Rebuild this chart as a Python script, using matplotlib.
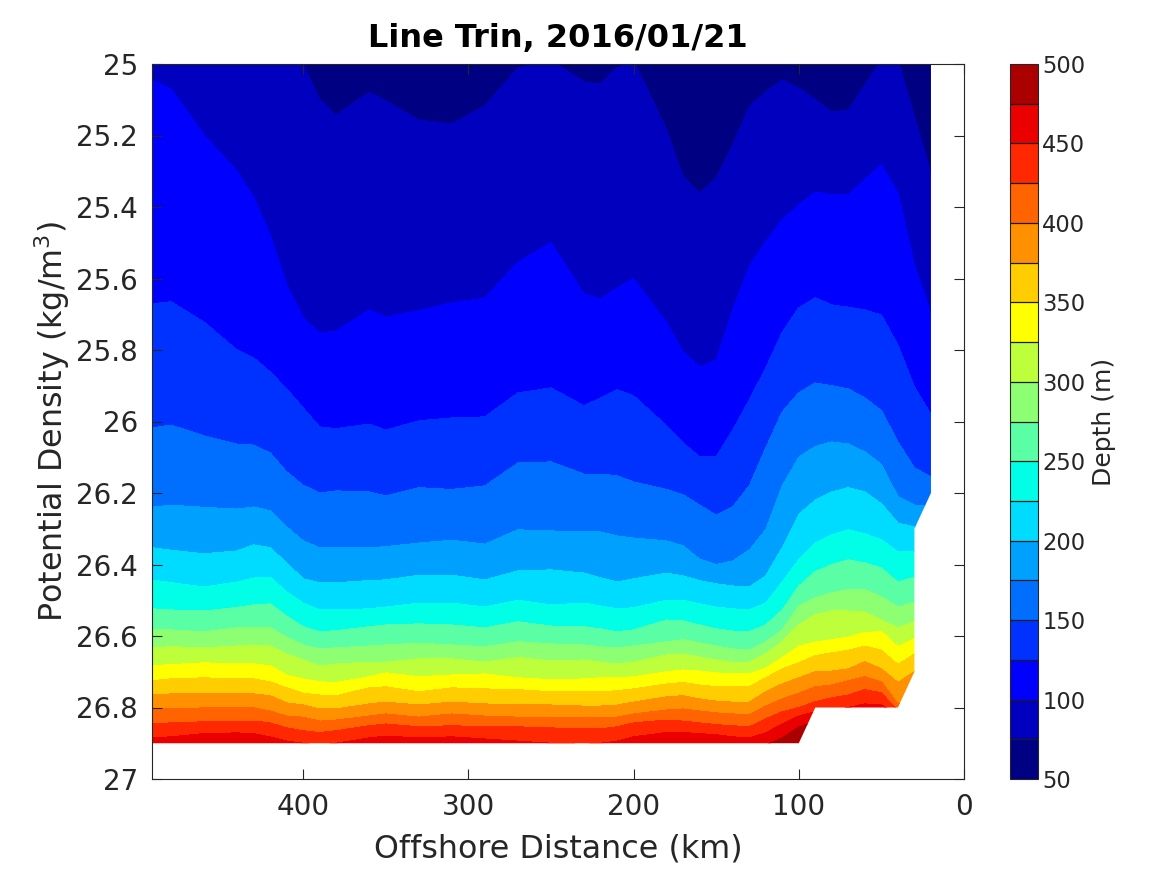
import numpy as np
import matplotlib
matplotlib.use('Agg')
import matplotlib.pyplot as plt
from matplotlib.patches import Polygon

# offshore distance of each profile (km)
distance = [491.5, 480, 460, 440, 430, 420, 410, 400, 390, 380, 360, 350, 330, 310, 290, 270, 250, 230, 220, 210,
            200, 180, 170, 160, 150, 140, 130, 120, 110, 100, 90, 80, 70, 60, 50, 40, 30, 20]

# potential density at which each depth (m) is reached along the line
sigma_75 = [24.98, 24.98, 24.98, 24.98, 24.98, 24.98, 24.98, 25.0, 25.10, 25.143, 25.08, 25.103, 25.157, 25.168, 25.117, 25.011, 24.99, 25.05, 25.056, 25.011,
            24.99, 25.185, 25.316, 25.361, 25.319, 25.226, 25.12, 25.078, 25.045, 25.067, 25.10, 25.134, 25.129, 25.059, 24.99, 24.99, 25.148, 25.305]
sigma_100 = [25.045, 25.07, 25.199, 25.30, 25.372, 25.478, 25.618, 25.71, 25.752, 25.747, 25.688, 25.708, 25.69, 25.668, 25.655, 25.554, 25.50, 25.643, 25.657, 25.627,
             25.60, 25.724, 25.805, 25.847, 25.828, 25.688, 25.567, 25.497, 25.436, 25.394, 25.358, 25.366, 25.366, 25.324, 25.282, 25.361, 25.562, 25.696]
sigma_125 = [25.671, 25.665, 25.722, 25.80, 25.822, 25.861, 25.909, 25.962, 26.015, 26.02, 26.007, 26.024, 25.998, 25.99, 25.987, 25.92, 25.906, 25.956, 25.934, 25.911,
             25.928, 26.012, 26.06, 26.099, 26.099, 26.024, 25.94, 25.85, 25.75, 25.682, 25.654, 25.674, 25.68, 25.688, 25.702, 25.786, 25.903, 25.98]
sigma_150 = [26.018, 26.01, 26.04, 26.063, 26.066, 26.088, 26.141, 26.178, 26.20, 26.194, 26.197, 26.208, 26.185, 26.19, 26.18, 26.116, 26.113, 26.147, 26.147, 26.152,
             26.169, 26.19, 26.205, 26.234, 26.262, 26.239, 26.18, 26.074, 25.973, 25.92, 25.892, 25.90, 25.909, 25.934, 25.97, 26.057, 26.13, 26.155]
sigma_175 = [26.24, 26.234, 26.24, 26.245, 26.239, 26.25, 26.295, 26.334, 26.353, 26.353, 26.353, 26.35, 26.34, 26.332, 26.343, 26.303, 26.306, 26.309, 26.309, 26.32,
             26.326, 26.334, 26.348, 26.385, 26.40, 26.39, 26.36, 26.303, 26.18, 26.10, 26.07, 26.057, 26.063, 26.085, 26.12, 26.21, 26.234, 26.234]
sigma_200 = [26.353, 26.36, 26.37, 26.362, 26.345, 26.353, 26.396, 26.44, 26.451, 26.451, 26.445, 26.443, 26.43, 26.43, 26.443, 26.418, 26.415, 26.424, 26.437, 26.449,
             26.44, 26.424, 26.432, 26.445, 26.454, 26.46, 26.463, 26.432, 26.353, 26.26, 26.22, 26.197, 26.185, 26.197, 26.23, 26.284, 26.295, 26.295]
sigma_225 = [26.443, 26.451, 26.463, 26.449, 26.438, 26.435, 26.477, 26.508, 26.527, 26.527, 26.524, 26.519, 26.508, 26.508, 26.519, 26.50, 26.513, 26.508, 26.516, 26.524,
             26.521, 26.50, 26.50, 26.51, 26.519, 26.524, 26.527, 26.508, 26.449, 26.387, 26.34, 26.317, 26.303, 26.314, 26.331, 26.365, 26.365, 26.365]
sigma_250 = [26.524, 26.527, 26.53, 26.52, 26.513, 26.51, 26.544, 26.574, 26.588, 26.585, 26.574, 26.569, 26.566, 26.569, 26.577, 26.56, 26.572, 26.574, 26.58, 26.588,
             26.583, 26.555, 26.558, 26.569, 26.58, 26.586, 26.588, 26.569, 26.527, 26.46, 26.42, 26.40, 26.387, 26.395, 26.41, 26.449, 26.435, 26.435]
sigma_275 = [26.583, 26.583, 26.588, 26.577, 26.575, 26.577, 26.603, 26.625, 26.636, 26.633, 26.628, 26.625, 26.62, 26.625, 26.63, 26.616, 26.622, 26.625, 26.63, 26.633,
             26.628, 26.616, 26.61, 26.619, 26.628, 26.636, 26.639, 26.617, 26.583, 26.516, 26.493, 26.479, 26.47, 26.47, 26.49, 26.519, 26.505, 26.505]
sigma_300 = [26.633, 26.63, 26.633, 26.628, 26.625, 26.628, 26.65, 26.667, 26.684, 26.678, 26.673, 26.673, 26.664, 26.664, 26.673, 26.66, 26.67, 26.667, 26.673, 26.678,
             26.673, 26.653, 26.65, 26.659, 26.667, 26.673, 26.673, 26.65, 26.616, 26.569, 26.54, 26.53, 26.53, 26.533, 26.555, 26.577, 26.56, 26.56]
sigma_325 = [26.683, 26.68, 26.675, 26.678, 26.678, 26.683, 26.709, 26.72, 26.728, 26.73, 26.714, 26.703, 26.714, 26.709, 26.706, 26.717, 26.722, 26.72, 26.717, 26.717,
             26.714, 26.70, 26.695, 26.698, 26.703, 26.706, 26.706, 26.69, 26.661, 26.628, 26.617, 26.61, 26.603, 26.59, 26.588, 26.63, 26.607, 26.607]
sigma_350 = [26.725, 26.72, 26.717, 26.72, 26.72, 26.728, 26.745, 26.76, 26.765, 26.767, 26.745, 26.742, 26.756, 26.745, 26.748, 26.75, 26.756, 26.756, 26.756, 26.753,
             26.748, 26.734, 26.73, 26.737, 26.742, 26.742, 26.742, 26.717, 26.692, 26.675, 26.655, 26.647, 26.64, 26.628, 26.64, 26.68, 26.65, 26.65]
sigma_375 = [26.765, 26.762, 26.76, 26.76, 26.762, 26.767, 26.787, 26.793, 26.804, 26.804, 26.79, 26.785, 26.793, 26.785, 26.79, 26.793, 26.793, 26.796, 26.796, 26.793,
             26.785, 26.77, 26.767, 26.776, 26.782, 26.785, 26.785, 26.756, 26.734, 26.717, 26.70, 26.698, 26.692, 26.672, 26.692, 26.73, 26.70, 26.70]
sigma_400 = [26.804, 26.804, 26.801, 26.801, 26.801, 26.81, 26.824, 26.827, 26.838, 26.835, 26.824, 26.818, 26.827, 26.818, 26.824, 26.827, 26.829, 26.829, 26.829, 26.827,
             26.818, 26.807, 26.804, 26.81, 26.815, 26.818, 26.82, 26.796, 26.776, 26.76, 26.742, 26.737, 26.725, 26.714, 26.728, 26.79, 26.79, 26.79]
sigma_425 = [26.846, 26.843, 26.84, 26.838, 26.838, 26.843, 26.857, 26.865, 26.87, 26.865, 26.851, 26.846, 26.854, 26.851, 26.854, 26.854, 26.857, 26.86, 26.86, 26.854,
             26.843, 26.835, 26.838, 26.843, 26.848, 26.851, 26.854, 26.832, 26.812, 26.80, 26.784, 26.773, 26.765, 26.75, 26.759, 26.81, 26.81, 26.81]
sigma_450 = [26.885, 26.882, 26.873, 26.871, 26.873, 26.882, 26.894, 26.90, 26.906, 26.90, 26.885, 26.88, 26.885, 26.882, 26.888, 26.894, 26.90, 26.903, 26.90, 26.894,
             26.882, 26.87, 26.87, 26.873, 26.876, 26.882, 26.885, 26.871, 26.846, 26.824, 26.812, 26.807, 26.80, 26.79, 26.793, 26.82, 26.82, 26.82]
sigma_475 = [26.95, 26.95, 26.95, 26.95, 26.95, 26.95, 26.95, 26.95, 26.95, 26.95, 26.95, 26.95, 26.95, 26.95, 26.95, 26.95, 26.95, 26.95, 26.95, 26.95,
             26.95, 26.95, 26.95, 26.95, 26.95, 26.95, 26.92, 26.905, 26.885, 26.854, 26.84, 26.84, 26.84, 26.84, 26.84, 26.84, 26.84, 26.84]

# edge of the sampled section
edge_km = [491.5, 20, 20, 30, 30, 40, 90, 100, 491.5]
edge_sigma = [25, 25, 26.2, 26.3, 26.7, 26.8, 26.8, 26.9, 26.9]

depth_levels = [50, 75, 100, 125, 150, 175, 200, 225, 250, 275, 300, 325, 350, 375, 400, 425, 450, 475, 500]
depth_ticks = [50, 100, 150, 200, 250, 300, 350, 400, 450, 500]
band_colors = ['#000082', '#0000be', '#0000ff', '#0032ff', '#006eff', '#00a0ff', '#00dcff', '#00ffe6', '#5affa5',
               '#8cff73', '#beff3c', '#ffff00', '#ffcd00', '#ff9100', '#ff6400', '#ff2800', '#eb0000', '#aa0000']

n = len(distance)
rows = [[24.9] * n, sigma_75, sigma_100, sigma_125, sigma_150, sigma_175, sigma_200, sigma_225, sigma_250, sigma_275,
        sigma_300, sigma_325, sigma_350, sigma_375, sigma_400, sigma_425, sigma_450, sigma_475, [27.0] * n]
Y = np.array(rows)
X = np.tile(np.array(distance), (len(rows), 1))
Z = np.tile(np.array(depth_levels, dtype=float).reshape(-1, 1), (1, n))

plt.rcParams['font.family'] = 'DejaVu Sans'
plt.rcParams['mathtext.default'] = 'regular'
text_color = '#262626'

fig = plt.figure(figsize=(11.67, 8.75), dpi=100)
ax = fig.add_axes([152 / 1167, 96 / 875, 812 / 1167, 715 / 875])

cs = ax.contourf(X, Y, Z, levels=depth_levels, colors=band_colors)
cs.set_clip_path(Polygon(np.column_stack([edge_km, edge_sigma]), transform=ax.transData))

ax.set_xlim(491.5, 0)
ax.set_ylim(27, 25)
ax.set_xticks([400, 300, 200, 100, 0])
ax.set_yticks([25, 25.2, 25.4, 25.6, 25.8, 26, 26.2, 26.4, 26.6, 26.8, 27])
ax.set_yticklabels(['25', '25.2', '25.4', '25.6', '25.8', '26', '26.2', '26.4', '26.6', '26.8', '27'])
ax.tick_params(direction='in', top=True, right=True, length=7, width=0.8, labelsize=20,
               labelcolor=text_color, color='#262626')
ax.tick_params(axis='x', pad=10)
ax.tick_params(axis='y', pad=10)
for s in ax.spines.values():
    s.set_linewidth(0.8)
    s.set_color('#262626')
    s.set_zorder(5)

ax.set_xlabel('Offshore Distance (km)', fontsize=22.9, color=text_color, labelpad=9)
ax.set_ylabel('Potential Density (kg/m$^3$)', fontsize=22.9, color=text_color, labelpad=3)
ax.set_title('Line Trin, 2016/01/21', fontsize=23, fontweight='bold', color='black', pad=12)

cax = fig.add_axes([1010 / 1167, 96 / 875, 28 / 1167, 715 / 875])
cb = fig.colorbar(cs, cax=cax, ticks=depth_ticks, drawedges=True)
cb.dividers.set_color('#1a1a1a')
cb.dividers.set_linewidth(0.9)
cb.outline.set_linewidth(0.8)
cb.outline.set_edgecolor('#262626')
cax.tick_params(length=0, labelsize=16.3, labelcolor=text_color, pad=3)
cb.set_label('Depth (m)', fontsize=18, color=text_color, labelpad=5)

fig.savefig('out.png', dpi=100)
